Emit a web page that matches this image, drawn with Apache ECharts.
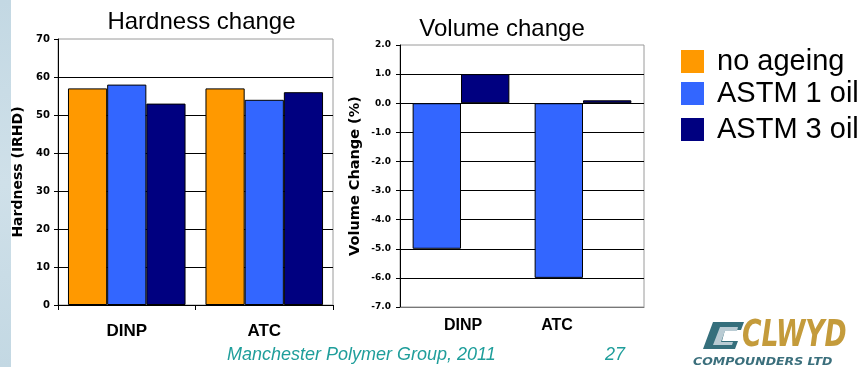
<!DOCTYPE html>
<html>
<head>
<meta charset="utf-8">
<script src="https://cdn.jsdelivr.net/npm/echarts@6/dist/echarts.min.js"></script>
<style>
  html, body { margin: 0; padding: 0; background: #fff; }
  #chart { width: 861px; height: 367px; }
</style>
</head>
<body>
<div id="chart"></div>
<script>
// Plasticiser comparison: hardness and volume change after oil ageing
const categories = ['DINP', 'ATC'];
const seriesNames = ['no ageing', 'ASTM 1 oil', 'ASTM 3 oil'];
const seriesColors = ['#FF9900', '#3366FF', '#000080'];

// Hardness (IRHD)
const hardnessNoAgeing = [57, 57];
const hardnessAstm1 = [58, 54];
const hardnessAstm3 = [53, 56];

// Volume change (%)
const volumeAstm1 = [-5.0, -6.0];
const volumeAstm3 = [1.0, 0.1];

const hardnessTicks = { min: 0, max: 70, interval: 10 };
const volumeTicks = { min: -7, max: 2, interval: 1 };

const titleFont = '"Liberation Sans", Arial, sans-serif';
const tickFont = '"DejaVu Sans", sans-serif';

function barSeries(name, idx, data, axisIdx) {
  return {
    name: name,
    type: 'bar',
    xAxisIndex: axisIdx,
    yAxisIndex: axisIdx,
    data: data,
    barGap: 0,
    barCategoryGap: axisIdx === 0 ? '14.5%' : '20.7%',
    itemStyle: { color: seriesColors[idx], borderColor: '#000', borderWidth: 1 },
    emphasis: { disabled: true },
    animation: false
  };
}

function legendRow(name, top) {
  return {
    data: [name],
    left: 681,
    top: top,
    padding: 0,
    orient: 'vertical',
    icon: 'rect',
    itemWidth: 23,
    itemHeight: 23,
    selectedMode: false,
    itemStyle: { borderWidth: 0 },
    textStyle: {
      fontFamily: titleFont,
      fontSize: 29,
      lineHeight: 29,
      color: '#000',
      padding: [0, 0, 0, 8]
    }
  };
}

const chart = echarts.init(document.getElementById('chart'), null, { renderer: 'canvas' });

chart.setOption({
  backgroundColor: '#ffffff',
  animation: false,
  title: [
    {
      text: 'Hardness change', left: 201.5, top: 10, textAlign: 'center', padding: 0,
      textStyle: { fontFamily: titleFont, fontSize: 24, lineHeight: 24, fontWeight: 'normal', color: '#000' }
    },
    {
      text: 'Volume change', left: 502, top: 17, textAlign: 'center', padding: 0,
      textStyle: { fontFamily: titleFont, fontSize: 24, lineHeight: 24, fontWeight: 'normal', color: '#000' }
    }
  ],
  legend: [
    legendRow(seriesNames[0], 47),
    legendRow(seriesNames[1], 79),
    legendRow(seriesNames[2], 115)
  ],
  grid: [
    { left: 58, right: 528, top: 39, bottom: 62, show: true, borderColor: '#9a9a9a', borderWidth: 1, backgroundColor: 'transparent' },
    { left: 400, right: 217, top: 45, bottom: 60, show: true, borderColor: '#9a9a9a', borderWidth: 1, backgroundColor: 'transparent' }
  ],
  xAxis: [
    {
      type: 'category', gridIndex: 0, data: categories,
      axisLine: { show: true, lineStyle: { color: '#000', width: 1 } },
      axisTick: { show: true, length: 5, lineStyle: { color: '#000' } },
      axisLabel: { margin: 18, fontFamily: titleFont, fontSize: 17, fontWeight: 'bold', color: '#000' },
      splitLine: { show: false }
    },
    {
      type: 'category', gridIndex: 1, data: categories,
      axisLine: { show: true, onZero: false, lineStyle: { color: '#777', width: 1 } },
      axisTick: { show: false },
      axisLabel: {
        margin: 11,
        formatter: function (v) { return v === 'ATC' ? '{b|' + v + '}' : '{a|' + v + '}'; },
        rich: {
          a: { fontFamily: titleFont, fontSize: 16, fontWeight: 'bold', color: '#000', padding: [0, 0, 0, 4] },
          b: { fontFamily: titleFont, fontSize: 16, fontWeight: 'bold', color: '#000', padding: [0, 52, 0, 0] }
        }
      },
      splitLine: { show: false }
    }
  ],
  yAxis: [
    {
      type: 'value', gridIndex: 0,
      min: hardnessTicks.min, max: hardnessTicks.max, interval: hardnessTicks.interval,
      name: 'Hardness (IRHD)', nameLocation: 'middle', nameGap: 33, nameRotate: 90,
      nameTextStyle: { fontFamily: tickFont, fontSize: 14, fontWeight: 'bold', color: '#000' },
      axisLine: { show: true, lineStyle: { color: '#000', width: 1 } },
      axisTick: { show: true, length: 4, lineStyle: { color: '#000' } },
      axisLabel: { margin: 8, fontFamily: tickFont, fontSize: 10, fontWeight: 'bold', color: '#000' },
      splitLine: { show: true, showMinLine: false, showMaxLine: false, lineStyle: { color: '#000', width: 1 } }
    },
    {
      type: 'value', gridIndex: 1,
      min: volumeTicks.min, max: volumeTicks.max, interval: volumeTicks.interval,
      name: 'Volume Change (%)', nameLocation: 'middle', nameGap: 37, nameRotate: 90,
      nameTextStyle: { fontFamily: tickFont, fontSize: 14.5, fontWeight: 'bold', color: '#000' },
      axisLine: { show: true, lineStyle: { color: '#000', width: 1 } },
      axisTick: { show: true, length: 4, lineStyle: { color: '#000' } },
      axisLabel: {
        margin: 9, fontFamily: tickFont, fontSize: 9, fontWeight: 'bold', color: '#000',
        formatter: function (v) { return v.toFixed(1); }
      },
      splitLine: { show: true, showMinLine: false, showMaxLine: false, lineStyle: { color: '#000', width: 1 } }
    }
  ],
  series: [
    barSeries(seriesNames[0], 0, hardnessNoAgeing, 0),
    barSeries(seriesNames[1], 1, hardnessAstm1, 0),
    barSeries(seriesNames[2], 2, hardnessAstm3, 0),
    barSeries(seriesNames[1], 1, volumeAstm1, 1),
    barSeries(seriesNames[2], 2, volumeAstm3, 1)
  ],
  graphic: [
    // slide side band
    {
      type: 'rect', left: 0, top: 0, z: -10, silent: true,
      shape: { width: 11, height: 367 },
      style: {
        fill: new echarts.graphic.LinearGradient(0, 0, 0, 1, [
          { offset: 0, color: '#c3d8e3' },
          { offset: 0.5, color: '#cfe0e9' },
          { offset: 1, color: '#c3d8e3' }
        ])
      }
    },
    // footer
    {
      type: 'text', left: 227, top: 346, silent: true,
      style: { text: 'Manchester Polymer Group, 2011', fill: '#1f9e9b', font: 'italic 18px "Liberation Sans", Arial, sans-serif' }
    },
    {
      type: 'text', left: 605, top: 346, silent: true,
      style: { text: '27', fill: '#1f9e9b', font: 'italic 18px "Liberation Sans", Arial, sans-serif' }
    },
    // company logo
    {
      type: 'polygon', silent: true,
      shape: { points: [[713, 322], [744, 322], [741, 330], [725, 330], [722, 341], [738, 341], [735, 349], [703, 349]] },
      style: { fill: '#356f7c' }
    },
    {
      type: 'polygon', silent: true,
      shape: { points: [[720, 327], [738, 327], [737, 331], [725, 331], [721, 342], [733, 342], [732, 345], [713, 345]] },
      style: { fill: '#b9cbd3' }
    },
    {
      type: 'text', x: 742, y: 318, scaleX: 0.8, silent: true,
      style: { text: 'CLWYD', fill: '#c49b3b', font: 'italic bold 37px "DejaVu Sans Condensed", "DejaVu Sans", sans-serif' }
    },
    {
      type: 'text', x: 693, y: 357, scaleX: 1.25, silent: true,
      style: { text: 'COMPOUNDERS LTD', fill: '#3b6f7c', font: 'italic bold 10px "DejaVu Sans", sans-serif' }
    }
  ]
});
</script>
</body>
</html>
